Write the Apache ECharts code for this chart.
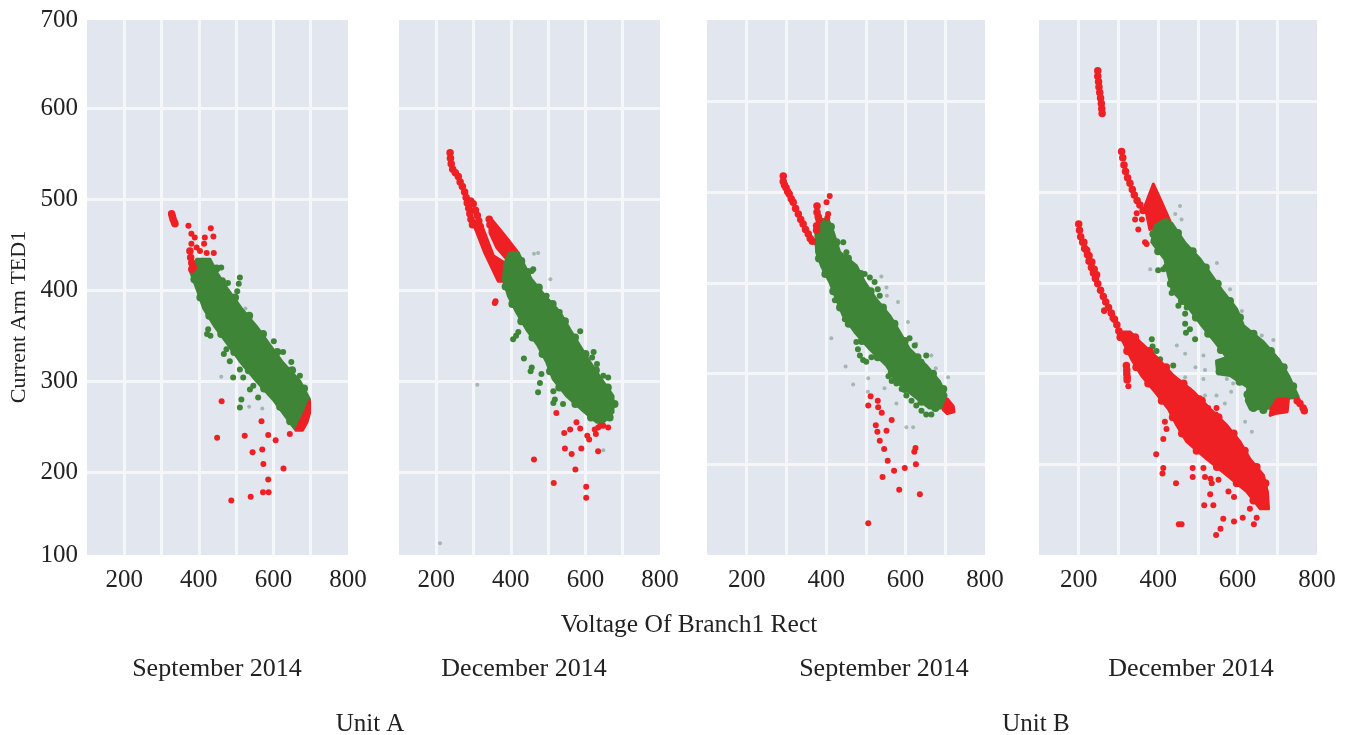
<!DOCTYPE html>
<html><head><meta charset="utf-8">
<style>html,body{margin:0;padding:0;background:#fff}#c{width:1348px;height:735px}</style>
<script src="https://cdn.jsdelivr.net/npm/echarts@6/dist/echarts.min.js"></script>
</head><body><div id="c"></div>
<script>
const xTickLabels=[200,400,600,800];
const yTickLabels=[100,200,300,400,500,600,700];

// Panel 1 - Unit A, September 2014
const a1Body=[[394,434],[430,434],[447,420],[479,400],[514,380],[555,360],[590,340],[626,320],[671,300],[697,280],[684,260],[671,248],[657,248],[635,260],[599,280],[555,300],[514,320],[479,340],[443,360],[413,380],[396,400],[378,420]];
const a1Edge=[[447,424],[462,410],[497,392],[535,372],[572,352],[610,332],[650,312],[682,292],[388,412],[404,392],[428,372],[460,352],[495,332],[534,312],[575,292],[618,272],[645,256]];
const a1RedBody=[[697,278],[697,265],[690,255],[678,246],[660,246],[680,262]];
const a1Spots=[[510,414],[507,407],[503,399],[425,357],[431,350],[422,352],[474,335],[467,330],[483,322],[510,313],[492,304],[519,304],[546,295],[537,291],[514,280],[510,271],[559,282],[626,332],[648,321],[671,306],[601,344],[460,425],[478,408]];
const a1Faint=[[460,305],[570,270],[535,272],[525,380],[640,262]];
const a1Chain=[[327,484],[329,481],[331,478],[334,475],[336,473],[376,443],[378,436],[381,430],[385,425],[381,423]];
const a1Red=[[372,471],[432,468],[439,459],[380,462],[389,458],[416,458],[414,451],[380,451],[394,447],[403,443],[421,441],[440,441],[461,278],[449,238],[523,240],[606,235],[586,241],[568,256],[644,242],[544,222],[570,225],[573,209],[627,204],[586,192],[587,178],[572,178],[539,173],[487,169]];

// Panel 2 - Unit A, December 2014
const a2Body=[[397,441],[420,441],[433,430],[455,412],[491,394],[531,376],[558,357],[585,339],[612,321],[643,302],[674,284],[674,266],[648,255],[630,255],[598,266],[549,284],[514,302],[496,321],[473,339],[442,357],[415,376],[393,394],[380,412],[384,430]];
const a2Edge=[[428,432],[445,420],[475,403],[512,385],[545,366],[572,348],[600,330],[628,312],[660,293],[678,275],[665,260],[390,420],[386,404],[404,385],[428,366],[458,348],[485,330],[505,311],[530,293],[573,275],[615,260]];
const a2RedBody1=[[295,478],[322,471],[353,438],[384,430],[380,410],[366,410],[330,441]];
const a2RedBody2=[[344,480],[384,460],[420,441],[389,434],[362,447],[344,463]];
const a2Spots=[[414,350],[420,354],[406,346],[435,325],[456,315],[453,311],[482,308],[478,298],[473,288],[514,289],[518,280],[514,276],[540,275],[460,423],[456,421],[586,355],[531,376],[496,394],[622,332],[618,326],[631,319],[661,304],[648,306]];
const a2Faint=[[462,440],[473,441],[310,296],[506,412],[210,122],[648,224]];
const a2Chain=[[237,551],[238,545],[240,539],[244,533],[251,529],[259,525],[264,519],[270,514],[276,508],[280,502],[283,496],[287,490],[290,484],[293,478],[297,472],[292,498],[299,495],[305,488],[310,482],[314,476],[318,470],[342,478],[344,472]];
const a2Red=[[357,386],[359,388],[522,265],[576,255],[559,247],[543,243],[586,248],[605,240],[610,236],[628,242],[634,249],[648,251],[661,249],[625,247],[640,251],[545,226],[589,226],[634,223],[563,220],[462,214],[573,203],[515,188],[602,184],[602,172]];

// Panel 3 - Unit B, September 2014
const b1Body=[[380,470],[405,470],[418,456],[434,434],[476,419],[497,401],[526,382],[560,364],[585,346],[610,327],[652,309],[686,291],[702,276],[690,262],[660,262],[619,276],[577,291],[552,309],[510,327],[472,346],[443,364],[426,382],[409,401],[388,419],[376,434],[374,456]];
const b1Edge=[[412,462],[426,445],[455,427],[487,410],[512,391],[543,373],[572,355],[598,336],[630,318],[669,300],[695,283],[378,445],[382,427],[398,410],[418,391],[435,373],[457,355],[490,336],[530,318],[565,300],[598,283],[640,269],[675,262]];
const b1RedBody=[[695,260],[705,272],[720,264],[722,258],[705,256]];
const b1Spots=[[577,289],[590,283],[602,276],[615,270],[627,265],[640,259],[652,255],[665,255],[557,297],[565,292],[497,410],[510,406],[522,401],[530,393],[535,386],[476,335],[480,327],[485,320],[493,315],[501,313],[514,318],[443,445],[451,434],[422,381],[447,360],[455,355],[652,320],[640,313],[610,339],[623,331]];
const b1Faint=[[413,339],[449,308],[468,288],[506,295],[547,284],[577,267],[602,241],[619,241],[707,296],[676,306],[581,379],[552,395],[539,407],[553,386],[606,357],[627,333],[665,320],[505,280],[640,312]];
const b1Chain=[[292,518],[292,512],[295,508],[299,505],[303,501],[307,498],[312,493],[317,489],[323,482],[330,476],[336,470],[342,465],[348,459],[355,454],[360,449],[365,446],[377,485],[377,478],[380,473],[382,470],[376,458],[376,463]];
const b1Red=[[401,489],[409,496],[405,476],[403,472],[506,265],[512,275],[530,270],[531,263],[540,257],[565,249],[525,243],[529,236],[552,237],[535,226],[546,217],[625,218],[622,214],[555,204],[571,193],[598,196],[626,200],[542,186],[584,172],[636,167],[506,135]];

// Panel 4 - Unit B, December 2014
const b2Body=[[392,463],[410,468],[434,466],[468,444],[506,426],[535,408],[564,390],[598,371],[615,353],[665,335],[703,316],[728,298],[753,274],[707,272],[690,262],[632,261],[622,270],[626,285],[581,298],[550,300],[547,314],[573,318],[543,335],[510,353],[480,371],[438,390],[426,408],[417,426],[384,445]];
const b2Edge=[[420,467],[450,455],[487,435],[520,417],[550,399],[581,380],[606,362],[640,344],[684,325],[716,307],[740,286],[388,454],[400,435],[421,417],[432,399],[460,380],[495,362],[526,344],[558,326],[605,291],[625,277],[640,262],[665,260]];
const b2RedBody1=[[297,346],[329,346],[354,335],[401,316],[438,298],[489,280],[531,261],[573,243],[606,225],[631,206],[665,188],[675,170],[678,151],[657,151],[623,170],[573,188],[522,206],[472,225],[447,243],[426,261],[392,280],[358,298],[333,316],[312,335]];
const b2RedEdge=[[342,340],[378,325],[420,307],[464,289],[510,270],[552,252],[590,234],[618,215],[648,197],[670,179],[305,340],[322,325],[345,307],[375,289],[409,270],[437,252],[460,234],[497,215],[548,197],[598,179],[640,160]];
const b2RedBody2=[[388,509],[367,485],[379,459],[430,468],[409,489]];
const b2RedBody3=[[685,262],[700,272],[728,272],[725,258],[695,256],[682,254]];
const b2Spots=[[552,311],[552,302],[565,306],[581,303],[468,366],[468,355],[470,345],[480,349],[493,338],[384,338],[386,330],[384,323],[396,325],[405,316],[438,309],[421,307],[413,415],[400,414],[438,393],[434,389],[451,375],[472,373],[741,278],[608,218]];
const b2Faint=[[447,331],[468,322],[514,320],[494,307],[518,304],[468,296],[514,294],[480,283],[518,276],[547,276],[568,267],[584,280],[589,289],[573,294],[619,247],[636,236],[594,232],[661,342],[690,337],[380,415],[455,485],[459,470],[443,476],[548,422],[581,393],[611,369]];
const b2Chain=[[248,634],[248,628],[250,622],[251,616],[253,610],[255,604],[257,598],[258,592],[259,587],[308,545],[311,538],[314,530],[318,523],[323,516],[329,510],[335,503],[340,497],[347,491],[354,486],[362,480],[200,465],[202,458],[205,451],[210,445],[215,438],[222,431],[226,424],[232,417],[237,411],[242,405],[248,399],[255,392],[262,385],[268,379],[275,373],[282,367],[290,360],[296,354],[301,347],[213,445],[220,436],[226,430],[233,423],[239,415],[245,409],[320,309],[321,304],[321,300],[322,296],[322,293],[750,270],[757,267],[765,262],[768,259]];
const b2Red=[[346,477],[342,470],[350,459],[359,470],[367,445],[371,443],[264,369],[285,364],[285,361],[264,370],[325,286],[417,247],[421,239],[413,228],[395,211],[413,196],[411,190],[445,179],[459,134],[452,134],[487,196],[487,186],[514,196],[518,186],[532,184],[552,183],[535,179],[577,170],[531,167],[539,155],[516,155],[591,164],[631,151],[564,140],[591,137],[613,141],[648,141],[641,134],[557,129],[546,122],[526,262],[547,262],[545,255],[564,241],[505,273]];

const green='#3f8537', red='#ee2024', panelBg='#e1e6ef', gridWhite='#f4f6fa', ink='#222';
const font='"Liberation Serif", serif';
const aY=[109,697], bY=[100,690];
const panels=[
 {left:87,width:261,y:aY,body:a1Body,edge:a1Edge,redUnder:[],redOver:[a1RedBody],redEdge:[],spots:a1Spots,faint:a1Faint,chain:a1Chain,red:a1Red,ticks:true},
 {left:399,width:261,y:aY,body:a2Body,edge:a2Edge,redUnder:[a2RedBody1,a2RedBody2],redOver:[],redEdge:[],spots:a2Spots,faint:a2Faint,chain:a2Chain,red:a2Red},
 {left:707,width:278,y:bY,body:b1Body,edge:b1Edge,redUnder:[],redOver:[b1RedBody],redEdge:[],spots:b1Spots,faint:b1Faint,chain:b1Chain,red:b1Red},
 {left:1039,width:278,y:bY,body:b2Body,edge:b2Edge,redUnder:[b2RedBody2],redOver:[b2RedBody1,b2RedBody3],redEdge:b2RedEdge,spots:b2Spots,faint:b2Faint,chain:b2Chain,red:b2Red}
];
const texts=[
 ['Voltage Of Branch1 Rect',689,625,25.5],['September 2014',217,669,26],['December 2014',524,669,26],
 ['September 2014',884,669,26],['December 2014',1191,669,26],['Unit A',370,724,25],['Unit B',1036,724,25]
];
const option={animation:false,backgroundColor:'#fff',grid:[],xAxis:[],yAxis:[],series:[],
 graphic:texts.map(t=>({type:'text',x:t[1],y:t[2],style:{text:t[0],font:t[3]+'px '+font,fill:ink,align:'center',verticalAlign:'middle'}}))
  .concat([{type:'text',x:19,y:317,rotation:Math.PI/2,style:{text:'Current Arm TED1',font:'22px '+font,fill:ink,align:'center',verticalAlign:'middle'}}])};
panels.forEach((p,i)=>{
 option.grid.push({left:p.left,width:p.width,top:20,height:535,show:true,backgroundColor:panelBg,borderWidth:0});
 option.xAxis.push({type:'value',gridIndex:i,min:100,max:800,interval:100,
  axisLine:{show:false},axisTick:{show:false},
  axisLabel:{customValues:xTickLabels,color:ink,fontFamily:font,fontSize:25,margin:13},
  splitLine:{show:true,showMinLine:false,showMaxLine:false,lineStyle:{color:gridWhite,width:3}}});
 option.yAxis.push({type:'value',gridIndex:i,min:p.y[0],max:p.y[1],
  axisLine:{show:false},
  axisTick:{show:false,customValues:[200,300,400,500,600]},
  axisLabel:{show:!!p.ticks,customValues:[aY[0],200,300,400,500,600,aY[1]],
   formatter:v=>String(yTickLabels.reduce((a,b)=>Math.abs(b-v)<Math.abs(a-v)?b:a)),
   color:ink,fontFamily:font,fontSize:25,margin:9,padding:[4,0,0,0]},
  splitLine:{show:true,lineStyle:{color:gridWhite,width:3}}});
 const dots=(data,size,color,z,opacity)=>option.series.push({type:'scatter',xAxisIndex:i,yAxisIndex:i,data,symbolSize:size,silent:true,z,
   itemStyle:{color,opacity:opacity==null?1:opacity}});
 const poly=(data,color,z)=>option.series.push({type:'custom',xAxisIndex:i,yAxisIndex:i,data,silent:true,z,encode:{x:0,y:1},
   renderItem:(params,api)=>{
     if(params.dataIndex!==0) return null;
     return {type:'polygon',shape:{points:data.map(d=>api.coord(d))},style:{fill:color,stroke:color,lineWidth:3,lineJoin:'round'}};
   }});
 dots(p.faint,4,'#6f8f78',3,0.55);
 p.redUnder.forEach(d=>poly(d,red,4));
 poly(p.body,green,5);
 dots(p.edge,8,green,5);
 dots(p.spots,6,green,5);
 p.redOver.forEach(d=>poly(d,red,7));
 if(p.redEdge.length) dots(p.redEdge,8,red,7);
 dots(p.chain,7.5,red,7);
 dots(p.red,6,red,7);
});
echarts.init(document.getElementById('c'),null,{renderer:'canvas'}).setOption(option);
</script></body></html>
